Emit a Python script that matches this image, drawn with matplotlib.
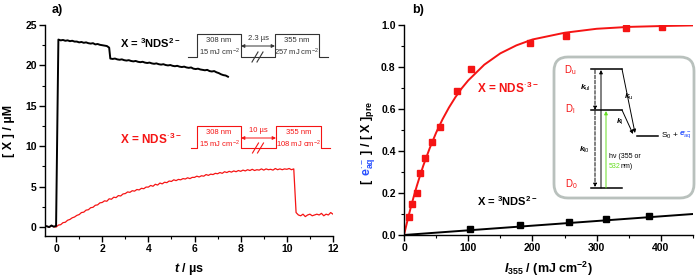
import numpy as np
import matplotlib
matplotlib.use('Agg')
import matplotlib.pyplot as plt
from matplotlib.patches import FancyBboxPatch
from matplotlib.ticker import MultipleLocator, FormatStrFormatter

plt.rcParams['font.family'] = ['Liberation Sans', 'DejaVu Sans']
plt.rcParams['mathtext.fontset'] = 'custom'
plt.rcParams['mathtext.rm'] = 'Liberation Sans'
plt.rcParams['mathtext.it'] = 'Liberation Sans:italic:bold'
plt.rcParams['mathtext.bf'] = 'Liberation Sans:bold'

RED = '#f51414'
BLUE = '#2850ff'
GREEN = '#66dd22'

# ---- panel a data ----
t_pre = [-0.4, -0.3, -0.2, -0.1, 0.0]
black_pre = [0.1, 0.0, 0.2, 0.05, 0.15]
red_pre = [0.1, 0.0, 0.15, 0.05, 0.0]

# black trace, t = 0.1 .. 2.3 (step 0.1)
black_seg1 = [23.2, 23.1, 23.15, 23.05, 23.1, 23.0, 23.05, 22.95, 22.95, 22.85,
              22.9, 22.8, 22.85, 22.75, 22.7, 22.75, 22.6, 22.65, 22.55, 22.5,
              22.45, 22.4, 22.2]
# black trace after the 355 nm pulse, t = 2.35 .. 7.45 (step 0.1)
black_seg2 = [20.85, 20.8, 20.85, 20.75, 20.7, 20.75, 20.65, 20.6, 20.65, 20.55,
              20.5, 20.55, 20.45, 20.4, 20.45, 20.35, 20.3, 20.35, 20.25, 20.2,
              20.25, 20.15, 20.1, 20.15, 20.05, 20.0, 20.05, 19.95, 19.9, 19.95,
              19.85, 19.8, 19.85, 19.75, 19.7, 19.75, 19.6, 19.55, 19.6, 19.5,
              19.45, 19.4, 19.45, 19.3, 19.25, 19.3, 19.15, 19.05, 18.9, 18.8,
              18.75, 18.6]

# red trace, t = 0.0 .. 10.3 (step 0.1)
red_rise = [0.0, 0.25, 0.3, 0.55, 0.6, 0.85, 0.95, 1.15, 1.25, 1.45,
            1.55, 1.8, 1.85, 2.1, 2.15, 2.4, 2.45, 2.7, 2.75, 3.0,
            3.05, 3.25, 3.2, 3.5, 3.45, 3.7, 3.65, 3.9, 3.85, 4.1,
            4.15, 4.35, 4.3, 4.5, 4.45, 4.65, 4.6, 4.8, 4.75, 4.95,
            4.95, 5.15, 5.05, 5.3, 5.2, 5.45, 5.35, 5.55, 5.5, 5.7,
            5.65, 5.85, 5.75, 5.9, 5.85, 6.0, 5.95, 6.1, 6.0, 6.15,
            6.15, 6.3, 6.2, 6.35, 6.3, 6.5, 6.4, 6.55, 6.5, 6.65,
            6.6, 6.75, 6.65, 6.85, 6.75, 6.9, 6.8, 6.95, 6.85, 7.0,
            6.9, 7.05, 6.95, 7.1, 7.0, 7.15, 7.0, 7.1, 7.05, 7.2,
            7.05, 7.2, 7.1, 7.15, 7.05, 7.25, 7.1, 7.2, 7.1, 7.2,
            7.15, 7.25, 7.1, 7.2]
# red trace after the 355 nm pulse, t = 10.4 .. 12.0
red_after = [1.8, 1.5, 1.4, 1.6, 1.3, 1.5, 1.6, 1.4, 1.5, 1.6, 1.5, 1.7,
             1.4, 1.6, 1.5, 1.8, 1.6]

# ---- panel b data ----
I_red = [8, 13, 20, 25, 33, 44, 56, 82, 105, 196, 252, 345, 402]
e_red = [0.087, 0.146, 0.2, 0.295, 0.366, 0.443, 0.514, 0.686, 0.79, 0.916, 0.95, 0.988, 0.99]
I_black = [102, 180, 257, 314, 381]
e_black = [0.027, 0.049, 0.063, 0.075, 0.089]
fit_red_x = [0, 5, 10, 15, 20, 25, 30, 40, 50, 60, 70, 80, 90, 100, 125, 150,
             175, 200, 250, 300, 350, 400, 450]
fit_red_y = [0, 0.064, 0.125, 0.181, 0.234, 0.283, 0.330, 0.413, 0.487, 0.551,
             0.607, 0.656, 0.699, 0.736, 0.811, 0.865, 0.903, 0.931, 0.963,
             0.982, 0.991, 0.995, 0.998]
fit_black_x = [0, 450]
fit_black_y = [0, 0.1]

fig = plt.figure(figsize=(7, 2.79), dpi=100)

def style(ax):
    for s in ['top', 'right']:
        ax.spines[s].set_visible(False)
    for s in ['left', 'bottom']:
        ax.spines[s].set_linewidth(1.0)
    ax.tick_params(which='major', direction='out', length=4, width=1,
                   labelsize=7.5, pad=2)
    ax.tick_params(which='minor', direction='out', length=2, width=0.8)
    for lab in ax.get_xticklabels() + ax.get_yticklabels():
        lab.set_fontweight('bold')

# ---- panel a ----
ax1 = fig.add_axes([45/700, 1-236/279, (333-45)/700, (236-25)/279])
dt = 0.1
t_b1 = np.round(np.arange(len(black_seg1)) * dt + 0.1, 2)
t_b2 = np.round(np.arange(len(black_seg2)) * dt + 2.35, 2)
t_r1 = np.round(np.arange(len(red_rise)) * dt, 2)
t_r2 = np.round(np.arange(len(red_after)) * dt + 10.4, 2)
ax1.plot(t_pre + list(t_r1[1:]) + list(t_r2), red_pre + red_rise[1:] + red_after,
         color=RED, lw=0.9)
ax1.plot(t_pre + list(t_b1) + list(t_b2), black_pre + black_seg1 + black_seg2,
         color='k', lw=1.4)
ax1.set_xlim(-0.48, 12)
ax1.set_ylim(-1.1, 25)
ax1.xaxis.set_major_locator(MultipleLocator(2))
ax1.xaxis.set_minor_locator(MultipleLocator(1))
ax1.yaxis.set_major_locator(MultipleLocator(5))
ax1.yaxis.set_minor_locator(MultipleLocator(2.5))
style(ax1)
ax1.set_xlabel(r'$t$ / µs', fontsize=9, fontweight='bold', labelpad=5)
ax1.set_ylabel('[ X ] / µM', fontsize=9, fontweight='bold', labelpad=7)

# ---- panel b ----
ax2 = fig.add_axes([404/700, 1-235/279, (693-404)/700, (235-25)/279])
ax2.plot(fit_red_x, fit_red_y, color=RED, lw=1.4)
ax2.plot(fit_black_x, fit_black_y, color='k', lw=1.4)
ax2.plot(I_red, e_red, 's', color=RED, ms=5)
ax2.plot(I_black, e_black, 's', color='k', ms=5)
ax2.set_xlim(0, 450)
ax2.set_ylim(0, 1.0)
ax2.xaxis.set_major_locator(MultipleLocator(100))
ax2.xaxis.set_minor_locator(MultipleLocator(50))
ax2.yaxis.set_major_locator(MultipleLocator(0.2))
ax2.yaxis.set_minor_locator(MultipleLocator(0.1))
ax2.yaxis.set_major_formatter(FormatStrFormatter('%.1f'))
style(ax2)
ax2.set_xlabel(r'$I_{\mathbf{355}}$ / (mJ cm$^{\mathbf{-2}}$)', fontsize=9,
               fontweight='bold', labelpad=5)

# ---- overlay in pixel coordinates for annotations ----
ov = fig.add_axes([0, 0, 1, 1], facecolor='none')
ov.set_xlim(0, 700)
ov.set_ylim(279, 0)
ov.axis('off')

ov.text(52, 10, 'a)', fontsize=9, fontweight='bold', va='center')
ov.text(412, 10, 'b)', fontsize=9, fontweight='bold', va='center')

ov.text(120, 43, r'X = $^{\mathbf{3}}$NDS$^{\mathbf{2-}}$', fontsize=8,
        fontweight='bold', va='center')
ov.text(120, 139, r'X = NDS$^{\bullet\,\mathbf{3-}}$', fontsize=8.5,
        fontweight='bold', va='center', color=RED)
ov.text(477, 88, r'X = NDS$^{\bullet\,\mathbf{3-}}$', fontsize=8.5,
        fontweight='bold', va='center', color=RED)
ov.text(477, 201, r'X = $^{\mathbf{3}}$NDS$^{\mathbf{2-}}$', fontsize=8,
        fontweight='bold', va='center')

def pulses(x0, x1, x2, x3, x4, x5, ybase, ytop, color, delay, energy):
    xs = [x0, x1, x1, x2, x2, x3, x3, x4, x4, x5]
    ys = [ybase, ybase, ytop, ytop, ybase, ybase, ytop, ytop, ybase, ybase]
    ov.plot(xs, ys, color=color, lw=0.8)
    fs = 5.5
    ov.text((x1+x2)/2, ytop+7, '308 nm', fontsize=fs, ha='center', va='center', color=color)
    ov.text((x1+x2)/2, ytop+18, r'15 mJ cm$^{-2}$', fontsize=fs, ha='center', va='center', color=color)
    ov.text((x3+x4)/2, ytop+7, '355 nm', fontsize=fs, ha='center', va='center', color=color)
    ov.text((x3+x4)/2, ytop+18, energy + r' mJ cm$^{-2}$', fontsize=fs, ha='center', va='center', color=color)
    xm = (x2+x3)/2
    ov.text(xm, ytop+5, delay, fontsize=fs, ha='center', va='center', color=color)
    ov.annotate('', xy=(x2, ytop+12), xytext=(x3, ytop+12),
                arrowprops=dict(arrowstyle='<|-|>', lw=0.7, color=color,
                                mutation_scale=5, shrinkA=0, shrinkB=0))
    for d in (-3, 2):
        ov.plot([xm+d-3, xm+d+3], [ybase+5, ybase-5], color=color, lw=0.8)

pulses(188, 197, 241, 275, 319, 328, 57, 34, '#333333', '2.3 µs', '257')
pulses(191, 197, 241, 276, 321, 330, 148, 126, RED, '10 µs', '108')

# ---- inset energy scheme ----
box = FancyBboxPatch((554, 57), 140, 141, boxstyle='round,pad=0,rounding_size=14',
                     fc='white', ec='#b9c1bd', lw=2)
ov.add_patch(box)
for y in (69, 110, 188):
    ov.plot([591, 622], [y, y], color='k', lw=1.1)
ov.plot([637, 658], [136, 136], color='k', lw=1.1)
ov.text(570, 70, r'D$_{\mathrm{u}}$', color=RED, fontsize=7, ha='center', va='center')
ov.text(570, 109, r'D$_{\mathrm{l}}$', color=RED, fontsize=7, ha='center', va='center')
ov.text(571, 184, r'D$_{0}$', color=RED, fontsize=7, ha='center', va='center')
ov.text(661, 136, r'S$_{0}$ +', fontsize=6, va='center')
ov.text(679, 135, r'$e^{\bullet-}_{\mathrm{aq}}$', fontsize=6, va='center', color=BLUE)

arr = dict(arrowstyle='-|>', lw=0.7, color='k', mutation_scale=5, shrinkA=0, shrinkB=0)
ov.annotate('', xy=(595, 110), xytext=(595, 70), arrowprops=dict(arr, ls='--'))
ov.annotate('', xy=(595, 187), xytext=(595, 111), arrowprops=dict(arr, ls='--'))
ov.annotate('', xy=(601, 70), xytext=(601, 188), arrowprops=arr)
ov.annotate('', xy=(606, 111), xytext=(606, 188),
            arrowprops=dict(arr, color=GREEN))
ov.annotate('', xy=(635, 133), xytext=(622, 69), arrowprops=arr)
ov.annotate('', xy=(633, 134), xytext=(622, 110), arrowprops=arr)
ov.text(585, 88, r'$k_{\mathrm{ul}}$', fontsize=6, ha='center', va='center')
ov.text(629, 97, r'$k_{\mathrm{u}}$', fontsize=6, ha='center', va='center')
ov.text(620, 122, r'$k_{\mathrm{l}}$', fontsize=6, ha='center', va='center')
ov.text(585, 150, r'$k_{\mathrm{l0}}$', fontsize=6, ha='center', va='center')
ov.text(609, 157, 'hν (355 or', fontsize=5, va='center')
ov.text(609, 167, '532', fontsize=5, va='center', color=GREEN)
ov.text(621, 167, 'nm)', fontsize=5, va='center')

# ---- right y label in pieces (blue e_aq) ----
x_lab = 370 / 700
y_lab = 1 - 184 / 279
parts = [('[ ', 'k'), (r'$\mathbf{e}^{\bullet-}_{\mathbf{aq}}$', BLUE),
         (r' ] / [ X ]$_{\mathbf{pre}}$', 'k')]
for s, c in parts:
    t = fig.text(x_lab, y_lab, s, color=c, rotation=90, rotation_mode='anchor',
                 ha='left', va='baseline', fontsize=9, fontweight='bold')
    fig.canvas.draw()
    bb = t.get_window_extent()
    y_lab = bb.y1 / fig.bbox.height

fig.savefig('out.png', dpi=100)
